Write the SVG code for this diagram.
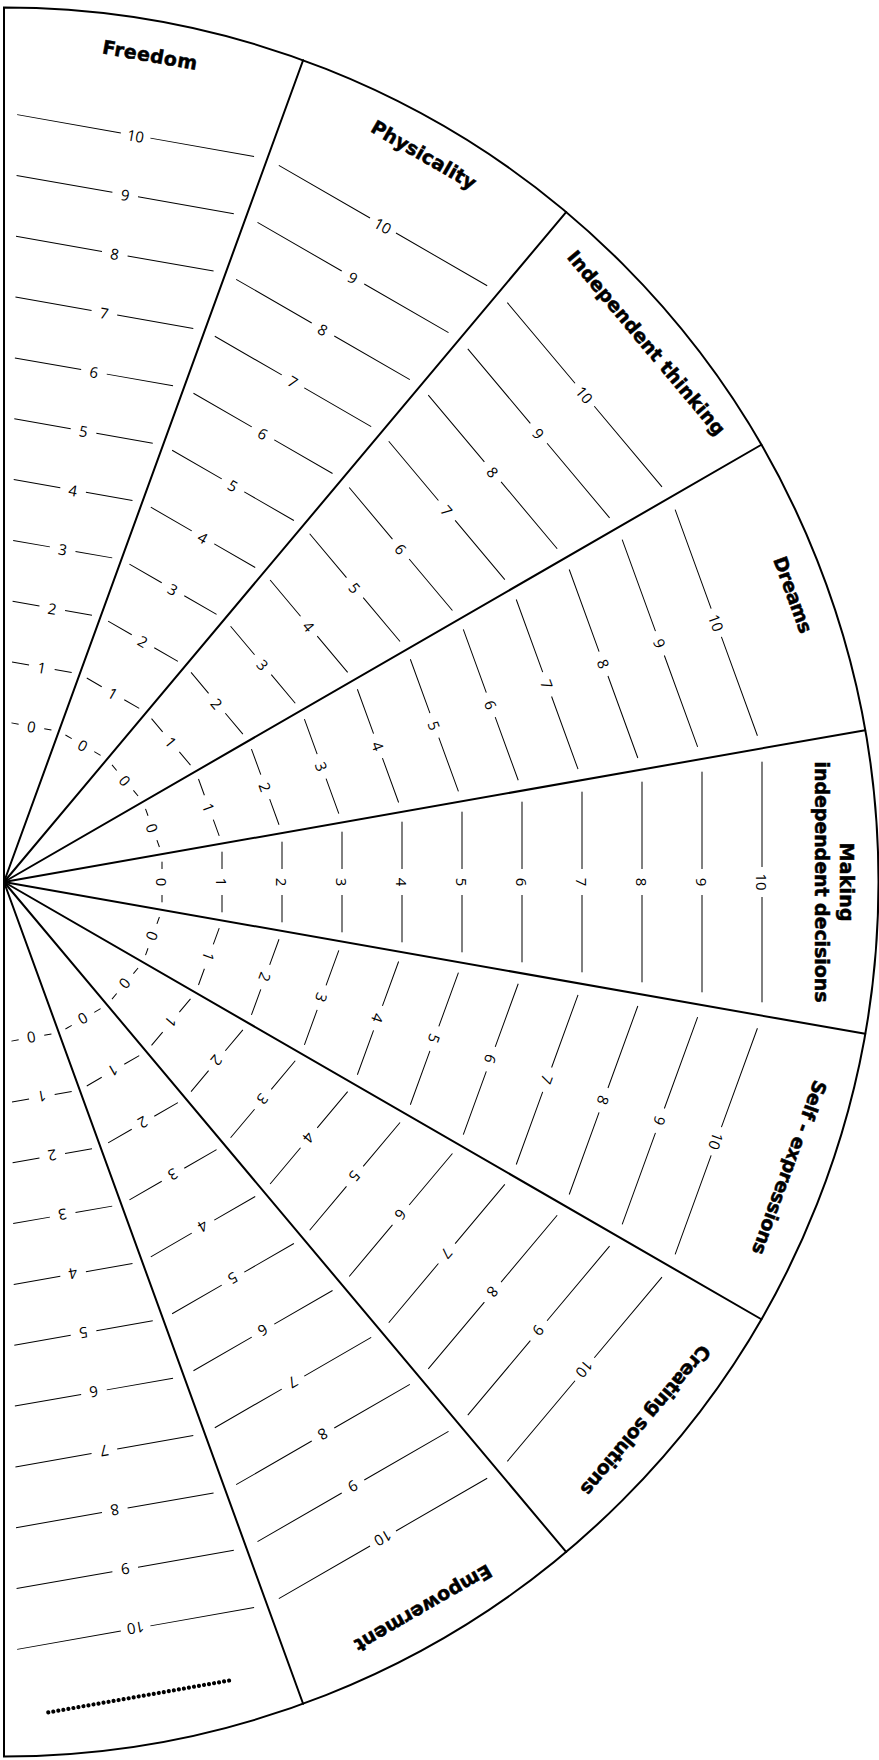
<svg xmlns="http://www.w3.org/2000/svg" width="879" height="1760" viewBox="0 0 879 1760">
<style>
.tk{fill:none;stroke:#000;stroke-width:1}
.n{font-family:"Open Sans","Liberation Sans",sans-serif;font-weight:400;font-size:15px;text-anchor:middle;dominant-baseline:central;fill:#000}
.lb{font-family:"DejaVu Sans","Liberation Sans",sans-serif;font-weight:700;font-size:19px;text-anchor:middle;dominant-baseline:central;fill:#000;stroke:#000;stroke-width:0.5}
.sp{stroke:#000;stroke-width:2;fill:none;stroke-linecap:round}
.dots{stroke:#000;stroke-width:4.2;stroke-linecap:round;stroke-dasharray:0 5.1;fill:none}
</style>
<defs>
<g id="scale">
<path class="tk" d="M-20.3 -158H-13M13 -158H20.3M-30.3 -218H-13M13 -218H30.3M-40.3 -278H-13M13 -278H40.3M-50.3 -338H-13M13 -338H50.3M-60.3 -398H-13M13 -398H60.3M-70.3 -458H-13M13 -458H70.3M-80.3 -518H-13M13 -518H80.3M-90.3 -578H-13M13 -578H90.3M-100.3 -638H-13M13 -638H100.3M-110.3 -698H-13M13 -698H110.3M-120.3 -758H-15M15 -758H120.3"/>
<text class="n" y="-158">0</text>
<text class="n" y="-218">1</text>
<text class="n" y="-278">2</text>
<text class="n" y="-338">3</text>
<text class="n" y="-398">4</text>
<text class="n" y="-458">5</text>
<text class="n" y="-518">6</text>
<text class="n" y="-578">7</text>
<text class="n" y="-638">8</text>
<text class="n" y="-698">9</text>
<text class="n" y="-758">10</text>
</g>
</defs>
<rect width="879" height="1760" fill="#fff"/>
<g id="connectors">
<path class="sp" stroke-width="2.2" d="M4 7.5A874.5 874.5 0 0 1 4 1756.5Z"/>
<g transform="translate(4,882)">
<line class="sp" x1="0" y1="0" x2="0" y2="-874.5" transform="rotate(20)"/>
<line class="sp" x1="0" y1="0" x2="0" y2="-874.5" transform="rotate(40)"/>
<line class="sp" x1="0" y1="0" x2="0" y2="-874.5" transform="rotate(60)"/>
<line class="sp" x1="0" y1="0" x2="0" y2="-874.5" transform="rotate(80)"/>
<line class="sp" x1="0" y1="0" x2="0" y2="-874.5" transform="rotate(100)"/>
<line class="sp" x1="0" y1="0" x2="0" y2="-874.5" transform="rotate(120)"/>
<line class="sp" x1="0" y1="0" x2="0" y2="-874.5" transform="rotate(140)"/>
<line class="sp" x1="0" y1="0" x2="0" y2="-874.5" transform="rotate(160)"/>
</g>
</g>
<g id="freedom" transform="translate(4,882) rotate(10)">
<use href="#scale"/>
<text class="lb" y="-840" textLength="96">Freedom</text>
</g>
<g id="physicality" transform="translate(4,882) rotate(30)">
<use href="#scale"/>
<text class="lb" y="-840" textLength="118">Physicality</text>
</g>
<g id="independent-thinking" transform="translate(4,882) rotate(50)">
<use href="#scale"/>
<text class="lb" y="-839" textLength="234">Independent thinking</text>
</g>
<g id="dreams" transform="translate(4,882) rotate(70)">
<use href="#scale"/>
<text class="lb" y="-840" textLength="80">Dreams</text>
</g>
<g id="making-independent-decisions" transform="translate(4,882) rotate(90)">
<use href="#scale"/>
<text class="lb" y="-843" textLength="79">Making</text>
<text class="lb" y="-818" textLength="241">independent decisions</text>
</g>
<g id="self-expressions" transform="translate(4,882) rotate(110)">
<use href="#scale"/>
<text class="lb" y="-836" textLength="184">Self - expressions</text>
</g>
<g id="creating-solutions" transform="translate(4,882) rotate(130)">
<use href="#scale"/>
<text class="lb" y="-838" textLength="190">Creating solutions</text>
</g>
<g id="empowerment" transform="translate(4,882) rotate(150)">
<use href="#scale"/>
<text class="lb" y="-839" textLength="155">Empowerment</text>
</g>
<g id="blank" transform="translate(4,882) rotate(170)">
<use href="#scale"/>
<path class="dots" d="M-83 -825.5H102"/>
</g>
</svg>
